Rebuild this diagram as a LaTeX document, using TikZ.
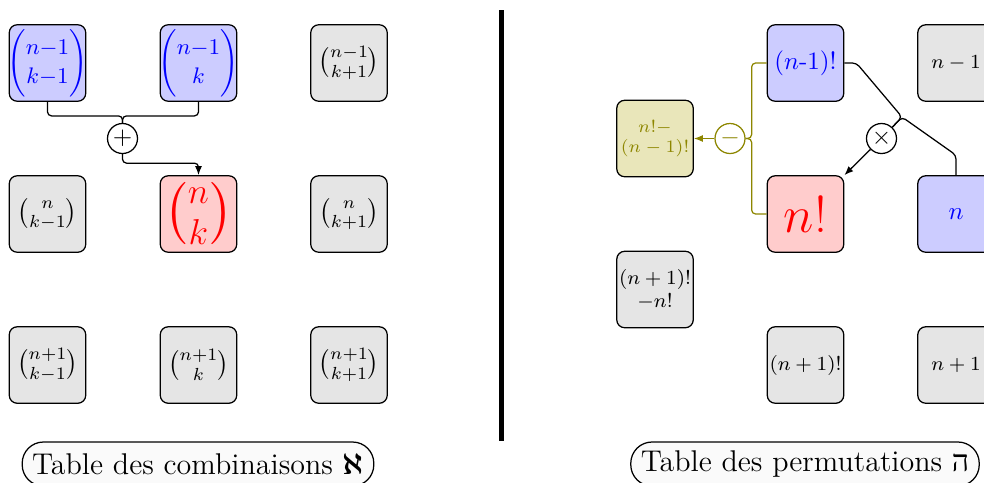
\documentclass[tikz,border=0pt]{standalone}
\usepackage{amsmath}
\usepackage{fontspec}
\newfontfamily\hebfont[Script=Hebrew]{Liberation Serif}
\TeXXeTstate=1
\usetikzlibrary{arrows.meta}
\newcommand\fitbox[1]{\makebox[28pt][c]{#1}}
\tikzset{
  cell/.style={draw=black, rounded corners=3.2pt, minimum width=30.6pt, minimum height=30.6pt, inner sep=0pt, align=center, line width=0.5pt},
  graycell/.style={cell, fill=gray!20},
  bluecell/.style={cell, fill=blue!20, text=blue},
  redcell/.style={cell, fill=red!20, text=red},
  olivecell/.style={cell, fill=olive!20, text=olive},
  bigbinom/.style={font=\fontsize{8.8}{10}\selectfont},
  opnode/.style={draw, circle, minimum size=12pt, inner sep=0pt, fill=white, line width=0.5pt},
  conn/.style={line width=0.5pt, rounded corners=1.6pt},
  tip/.style={-{Latex[length=3.6pt,width=2.8pt]}},
  pill/.style={draw, rounded corners=8.5pt, minimum height=17.6pt, fill=gray!4, font=\large, inner xsep=4pt, line width=0.5pt}
}
\begin{document}
\begin{tikzpicture}[x=0.4pt,y=-0.4pt]
\useasboundingbox (0,0) rectangle (984,482);
% left table
\node[bluecell,bigbinom] (c11) at (47.5,63) {\fitbox{$\dbinom{n{-}1}{k{-}1}$}};
\node[bluecell,bigbinom] (c12) at (198.5,63) {\fitbox{$\dbinom{n{-}1}{k}$}};
\node[graycell] (c13) at (349,63) {$\binom{n-1}{k+1}$};
\node[graycell] (c21) at (47.5,214) {$\binom{n}{k-1}$};
\node[redcell,font=\huge] (c22) at (198.5,214) {\fitbox{$\binom{n}{k}$}};
\node[graycell] (c23) at (349,214) {$\binom{n}{k+1}$};
\node[graycell] (c31) at (47.5,365) {$\binom{n+1}{k-1}$};
\node[graycell] (c32) at (198.5,365) {$\binom{n+1}{k}$};
\node[graycell] (c33) at (349,365) {$\binom{n+1}{k+1}$};
\node[opnode] (plus) at (122.5,138.5) {$+$};
\draw[conn] (c11.south) -- ++(0,14) -| (plus.north);
\draw[conn] (c12.south) -- ++(0,14) -| (plus.north);
\draw[conn,tip] (plus.south) -- ++(0,9) -| (c22.north);
% divider
\coordinate (dtop) at (501.5,10);
\coordinate (dbot) at (501.5,441);
\draw[line width=2.3pt] (dtop) -- (dbot);
% right table
\node[olivecell,font=\scriptsize] (o) at (655,138.5) {$n!-$\\$(n-1)!$};
\node[bluecell] (p1) at (805.5,63) {$(n$-$1)!$};
\node[graycell,font=\footnotesize] (p2) at (956,63) {$n-1$};
\node[redcell,font=\huge] (p3) at (805.5,214) {$n!$};
\node[bluecell] (p4) at (956,214) {$n$};
\node[graycell,font=\footnotesize] (p5) at (655,289.5) {$(n+1)!$\\$-n!$};
\node[graycell,font=\footnotesize] (p6) at (805.5,365) {$(n+1)!$};
\node[graycell,font=\footnotesize] (p7) at (956,365) {$n+1$};
\node[opnode,draw=olive,text=olive] (minus) at (730,138.5) {$-$};
\node[opnode] (times) at (881.5,138.5) {$\times$};
\coordinate (J) at (902,117);
\draw[conn,olive] (p1.west) -- ++(-15,0) |- (minus.east);
\draw[conn,olive] (p3.west) -- ++(-15,0) |- (minus.east);
\draw[conn,olive,tip] (minus.west) -- (o.east);
\draw[conn] (p1.east) -- ++(12,0) -- (J) -- (times);
\draw[conn] (p4.north) -- ++(0,-20) -- (J) -- (times);
\draw[conn,tip] (times) -- (p3.north east);
% labels
\node[pill] (l1) at (198,464) {Table des combinaisons $\boldsymbol{\aleph}$};
\node[pill] (l2) at (805,464) {Table des permutations {\hebfont\beginR ה\endR}};
\end{tikzpicture}
\end{document}
